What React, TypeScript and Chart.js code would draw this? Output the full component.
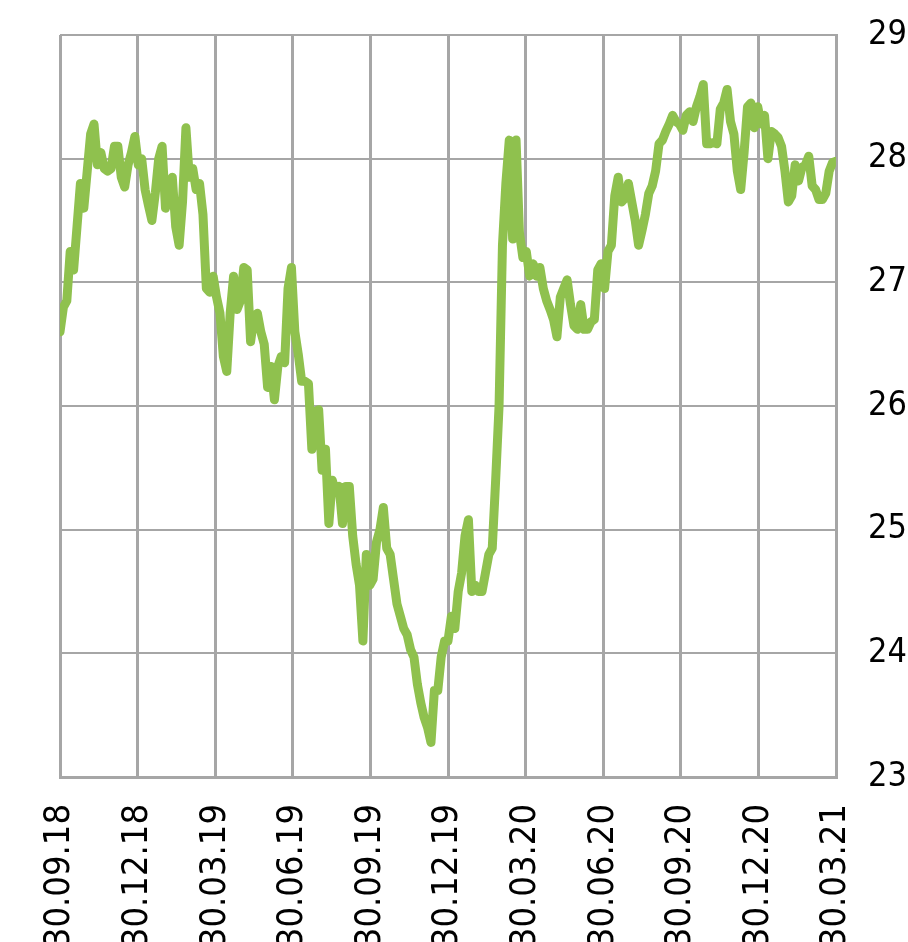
import React, { useEffect, useRef } from 'react';
import { Chart, registerables } from 'chart.js';

Chart.register(...registerables);

const tickLabels = [
  '30.09.18', '30.12.18', '30.03.19', '30.06.19', '30.09.19', '30.12.19',
  '30.03.20', '30.06.20', '30.09.20', '30.12.20', '30.03.21',
];

const yMin = 23;
const yMax = 29;

// values sampled evenly from 30.09.18 to 30.03.21
const values = [
  26.6, 26.8, 26.85, 27.25, 27.1, 27.45, 27.8, 27.6, 27.9, 28.2,
  28.28, 27.95, 28.05, 27.92, 27.9, 27.92, 28.1, 28.1, 27.85, 27.77,
  27.95, 28.05, 28.18, 27.95, 28.0, 27.75, 27.62, 27.5, 27.72, 28.0,
  28.1, 27.6, 27.75, 27.85, 27.45, 27.3, 27.65, 28.25, 27.85, 27.92,
  27.75, 27.8, 27.55, 26.95, 26.92, 27.05, 26.88, 26.75, 26.4, 26.28,
  26.75, 27.05, 26.78, 26.85, 27.12, 27.1, 26.52, 26.72, 26.75, 26.6,
  26.5, 26.15, 26.32, 26.05, 26.32, 26.4, 26.35, 26.95, 27.12, 26.6,
  26.42, 26.2, 26.2, 26.18, 25.65, 25.95, 25.97, 25.48, 25.65, 25.05,
  25.4, 25.3, 25.35, 25.05, 25.35, 25.35, 24.95, 24.72, 24.55, 24.1,
  24.8, 24.55, 24.6, 24.9, 25.0, 25.18, 24.85, 24.8, 24.6, 24.4,
  24.3, 24.2, 24.15, 24.03, 23.97, 23.75, 23.6, 23.48, 23.4, 23.28,
  23.7, 23.7, 23.97, 24.1, 24.1, 24.3, 24.2, 24.5, 24.65, 24.95,
  25.08, 24.5, 24.55, 24.5, 24.5, 24.65, 24.8, 24.85, 25.4, 26.0,
  27.3, 27.8, 28.15, 27.35, 28.15, 27.4, 27.2, 27.25, 27.05, 27.15,
  27.05, 27.12, 26.95, 26.85, 26.78, 26.7, 26.56, 26.88, 26.95, 27.02,
  26.82, 26.65, 26.62, 26.82, 26.62, 26.62, 26.68, 26.7, 27.1, 27.15,
  26.95, 27.25, 27.3, 27.7, 27.85, 27.65, 27.68, 27.8, 27.65, 27.5,
  27.3, 27.42, 27.55, 27.72, 27.78, 27.9, 28.12, 28.15, 28.22, 28.28,
  28.35, 28.3, 28.28, 28.23, 28.35, 28.38, 28.3, 28.42, 28.5, 28.6,
  28.12, 28.12, 28.13, 28.12, 28.4, 28.45, 28.56, 28.3, 28.2, 27.9,
  27.75, 28.05, 28.42, 28.45, 28.25, 28.42, 28.28, 28.35, 28.0, 28.22,
  28.2, 28.17, 28.1, 27.9, 27.65, 27.7, 27.95, 27.82, 27.93, 27.95,
  28.02, 27.78, 27.75, 27.67, 27.67, 27.72, 27.9, 27.97, 27.98,
];

const FONT = "'DejaVu Sans Condensed', 'Liberation Sans', sans-serif";
const GRID = '#A6A6A6';

export default function App() {
  const ref = useRef<HTMLCanvasElement>(null);

  useEffect(() => {
    const n = values.length;
    const span = tickLabels.length - 1;
    const data = values.map((v, i) => ({ x: (i * span) / (n - 1), y: v }));
    const chart = new Chart(ref.current as HTMLCanvasElement, {
      type: 'line',
      data: {
        datasets: [
          {
            data,
            borderColor: '#8FC14E',
            borderWidth: 9,
            pointRadius: 0,
            tension: 0,
            fill: false,
            borderJoinStyle: 'round',
            borderCapStyle: 'round',
          },
        ],
      },
      options: {
        animation: false,
        responsive: false,
        events: [],
        layout: { padding: { left: 60, top: 35, right: 0, bottom: 0 } },
        plugins: { legend: { display: false }, tooltip: { enabled: false } },
        scales: {
          x: {
            type: 'linear',
            min: 0,
            max: span,
            ticks: {
              stepSize: 1,
              autoSkip: false,
              minRotation: 90,
              maxRotation: 90,
              padding: 27,
              color: '#000',
              font: { family: FONT, size: 36 },
              callback: (v: any) => tickLabels[Math.round(Number(v))] ?? '',
            },
            grid: { color: GRID, lineWidth: 3, drawTicks: false },
            border: { color: GRID, width: 3 },
            afterFit: (s: any) => {
              s.height = 165;
              s.paddingLeft = 0;
              s.paddingRight = 0;
            },
          },
          y: {
            position: 'right',
            min: yMin,
            max: yMax,
            ticks: {
              stepSize: 1,
              padding: 32,
              color: '#000',
              font: { family: FONT, size: 34 },
            },
            grid: { color: GRID, lineWidth: 2, drawTicks: false },
            border: { color: GRID, width: 3 },
            afterFit: (s: any) => {
              s.width = 72;
              s.paddingTop = 0;
              s.paddingBottom = 0;
            },
          },
        },
      },
    });
    return () => chart.destroy();
  }, []);

  return (
    <div style={{ position: 'fixed', left: 0, top: 0, width: 908, height: 942, background: '#fff' }}>
      <canvas ref={ref} width={908} height={942} style={{ display: 'block', width: 908, height: 942 }} />
    </div>
  );
}
